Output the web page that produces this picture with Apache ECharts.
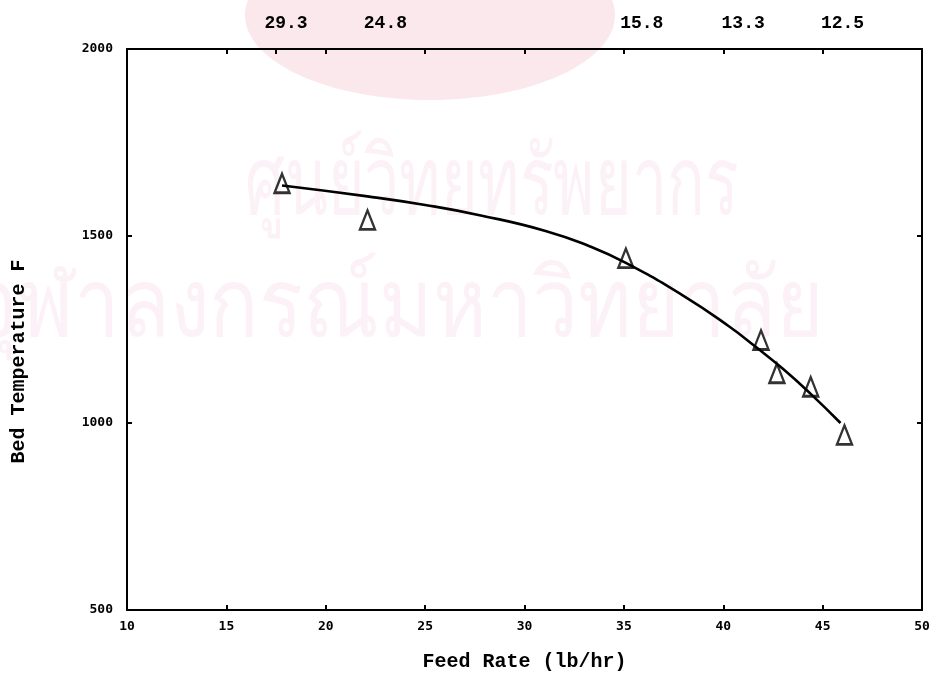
<!DOCTYPE html>
<html>
<head>
<meta charset="utf-8">
<script src="https://cdn.jsdelivr.net/npm/echarts@6/dist/echarts.min.js"></script>
<style>
  html, body { margin: 0; padding: 0; background: #ffffff; }
  #chart { width: 941px; height: 680px; }
</style>
</head>
<body>
<div id="chart"></div>
<script>
// Measured bed temperature against feed rate
const feedRate = [17.8, 22.1, 35.1, 41.9, 42.7, 44.4, 46.1];
const bedTemp = [1641, 1543, 1441, 1222, 1133, 1097, 968];

// Fitted curve through the measurements
const curveFeed = [17.8, 22.1, 25.0, 27.8, 31.1, 33.3, 35.1, 38.0, 40.3, 41.6, 43.0, 44.4, 45.9];
const curveTemp = [1635, 1606, 1583, 1555, 1513, 1472, 1428, 1340, 1258, 1205, 1145, 1078, 1000];

// Secondary scale printed along the top edge
const topTickValues = [18, 23, 35.9, 41, 46];
const topTickLabels = ['29.3', '24.8', '15.8', '13.3', '12.5'];
const topTickMarks = [15, 17.5, 20, 25, 30, 35, 40, 45];

// Watermark lines
const watermarkLines = ['ศูนย์วิทยทรัพยากร', 'จุฬาลงกรณ์มหาวิทยาลัย'];

const mono = "'Liberation Mono', 'DejaVu Sans Mono', monospace";
const tickFont = "'DejaVu Sans Mono', 'Liberation Mono', monospace";
const ink = '#000000';
const wmFill = 'rgba(232, 150, 185, 0.13)';

const chart = echarts.init(document.getElementById('chart'), null, { renderer: 'canvas' });

const topLabelMap = {};
topTickValues.forEach((v, i) => { topLabelMap[v] = topTickLabels[i]; });

const option = {
  backgroundColor: '#ffffff',
  animation: false,
  graphic: [
    {
      type: 'ellipse', z: -10, silent: true,
      shape: { cx: 430, cy: 15, rx: 185, ry: 85 },
      style: { fill: 'rgba(225, 110, 135, 0.16)' }
    },
    {
      type: 'text', z: -9, silent: true, x: 245, y: 140, scaleX: 0.66,
      style: { text: watermarkLines[0], font: '95px sans-serif', fill: wmFill }
    },
    {
      type: 'text', z: -9, silent: true, x: -30, y: 262, scaleX: 0.86,
      style: { text: watermarkLines[1], font: '95px sans-serif', fill: wmFill }
    }
  ],
  grid: { left: 127, right: 19, top: 49, bottom: 70, containLabel: false },
  xAxis: [
    {
      type: 'value', position: 'bottom', min: 10, max: 50, interval: 5,
      name: 'Feed Rate (lb/hr)', nameLocation: 'middle', nameGap: 42,
      nameTextStyle: { fontFamily: mono, fontWeight: 'bold', fontSize: 20, color: ink },
      axisLine: { show: true, lineStyle: { color: ink, width: 2 } },
      axisTick: { show: true, inside: true, length: 5, lineStyle: { color: ink, width: 2 } },
      axisLabel: { fontFamily: tickFont, fontWeight: 'bold', fontSize: 13, color: ink, margin: 10 },
      splitLine: { show: false }
    },
    {
      type: 'value', position: 'top', min: 10, max: 50,
      axisLine: { show: true, lineStyle: { color: ink, width: 2 } },
      axisTick: { show: true, inside: true, length: 5, customValues: topTickMarks, lineStyle: { color: ink, width: 2 } },
      axisLabel: {
        show: true, customValues: topTickValues, margin: 17,
        fontFamily: mono, fontWeight: 'bold', fontSize: 18, color: ink,
        formatter: (v) => topLabelMap[v] || ''
      },
      splitLine: { show: false }
    }
  ],
  yAxis: [
    {
      type: 'value', position: 'left', min: 500, max: 2000, interval: 500,
      name: 'Bed Temperature F', nameLocation: 'middle', nameGap: 98, nameRotate: 90,
      nameTextStyle: { fontFamily: mono, fontWeight: 'bold', fontSize: 20, color: ink, padding: [0, 64, 0, 0] },
      axisLine: { show: true, lineStyle: { color: ink, width: 2 } },
      axisTick: { show: true, inside: true, length: 5, lineStyle: { color: ink, width: 2 } },
      axisLabel: {
        fontFamily: tickFont, fontWeight: 'bold', fontSize: 13, color: ink, margin: 14,
        formatter: (v) => String(v)
      },
      splitLine: { show: false }
    },
    {
      type: 'value', position: 'right', min: 500, max: 2000, interval: 500,
      axisLine: { show: true, lineStyle: { color: ink, width: 2 } },
      axisTick: { show: true, inside: true, length: 5, lineStyle: { color: ink, width: 2 } },
      axisLabel: { show: false },
      splitLine: { show: false }
    }
  ],
  series: [
    {
      type: 'line', name: 'fit', smooth: 0.5, showSymbol: false, symbol: 'none',
      xAxisIndex: 0, yAxisIndex: 0,
      lineStyle: { color: ink, width: 2.6 },
      data: curveFeed.map((x, i) => [x, curveTemp[i]])
    },
    {
      type: 'scatter', name: 'measured', symbol: 'triangle', symbolSize: [15, 19],
      xAxisIndex: 0, yAxisIndex: 0,
      itemStyle: { color: 'rgba(255,255,255,0)', borderColor: ink, borderWidth: 2.5 },
      data: feedRate.map((x, i) => [x, bedTemp[i]])
    }
  ]
};

chart.setOption(option);
</script>
</body>
</html>
